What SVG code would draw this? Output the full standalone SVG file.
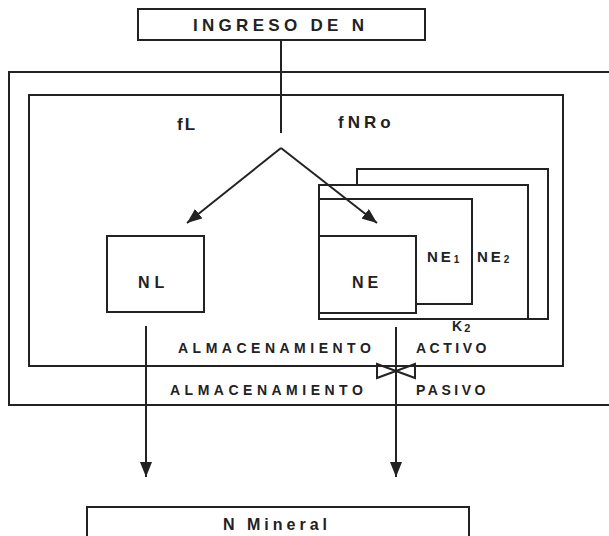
<svg xmlns="http://www.w3.org/2000/svg" width="609" height="536" viewBox="0 0 609 536">
<style>
.box{fill:#fff;stroke:#222;stroke-width:2}
.ln{fill:none;stroke:#222;stroke-width:2}
.t{font-family:"Liberation Sans",Arial,sans-serif;font-weight:bold;fill:#222}
</style>
<defs>
<marker id="ah" viewBox="0 0 15 12" refX="15" refY="6" markerWidth="15" markerHeight="12" markerUnits="userSpaceOnUse" orient="auto">
<path d="M0,0 L15,6 L0,12 z" fill="#222"/>
</marker>
</defs>
<rect width="609" height="536" fill="#fff"/>
<g id="outer"><rect class="box" x="9" y="72" width="612" height="333"/></g>
<g id="inner"><rect class="box" x="29" y="95" width="534" height="271"/></g>
<g id="ingreso">
<rect class="box" x="138" y="9" width="287" height="31"/>
<text class="t" x="193" y="31" font-size="17" letter-spacing="4.3">INGRESO DE N</text>
</g>
<g id="labels-f">
<text class="t" x="177" y="130" font-size="17" letter-spacing="2">fL</text>
<text class="t" x="338" y="128" font-size="17" letter-spacing="4">fNRo</text>
</g>
<g id="ne2"><rect class="box" x="357" y="169" width="191" height="150"/></g>
<g id="neb"><rect class="box" x="319" y="185" width="209" height="134"/>
<text class="t" x="477" y="262" font-size="15" letter-spacing="3">NE<tspan font-size="10" dy="1">2</tspan></text></g>
<g id="ne1"><rect class="box" x="319" y="199" width="153" height="105"/>
<text class="t" x="427" y="262" font-size="15" letter-spacing="3">NE<tspan font-size="10" dy="1">1</tspan></text></g>
<g id="ne"><rect class="box" x="319" y="236" width="97" height="77"/>
<text class="t" x="352" y="288" font-size="16" letter-spacing="4">NE</text></g>
<g id="nl"><rect class="box" x="107" y="236" width="97" height="76"/>
<text class="t" x="138" y="288" font-size="16" letter-spacing="5">NL</text></g>
<g id="k2"><text class="t" x="452" y="331" font-size="14" letter-spacing="2">K<tspan font-size="11" dy="1">2</tspan></text></g>
<g id="storage-labels">
<text class="t" x="178" y="353" font-size="14" letter-spacing="4.5">ALMACENAMIENTO</text>
<text class="t" x="416" y="353" font-size="14" letter-spacing="3.5">ACTIVO</text>
<text class="t" x="170" y="395" font-size="14" letter-spacing="4.5">ALMACENAMIENTO</text>
<text class="t" x="416" y="395" font-size="14" letter-spacing="3.5">PASIVO</text>
</g>
<g id="mineral">
<rect class="box" x="87" y="507" width="382" height="40"/>
<text class="t" x="223" y="530" font-size="16" letter-spacing="4">N Mineral</text>
</g>
<g id="connectors">
<path class="ln" d="M281,40 L281,133"/>
<path class="ln" d="M281,148 L187,223" marker-end="url(#ah)"/>
<path class="ln" d="M281,148 L377,223" marker-end="url(#ah)"/>
<path class="ln" d="M146,326 L146,477" marker-end="url(#ah)"/>
<path class="ln" d="M396,327 L396,477" marker-end="url(#ah)"/>
<path class="ln" d="M377,364 L377,378 L415,364 L415,378 Z"/>
</g>
</svg>
